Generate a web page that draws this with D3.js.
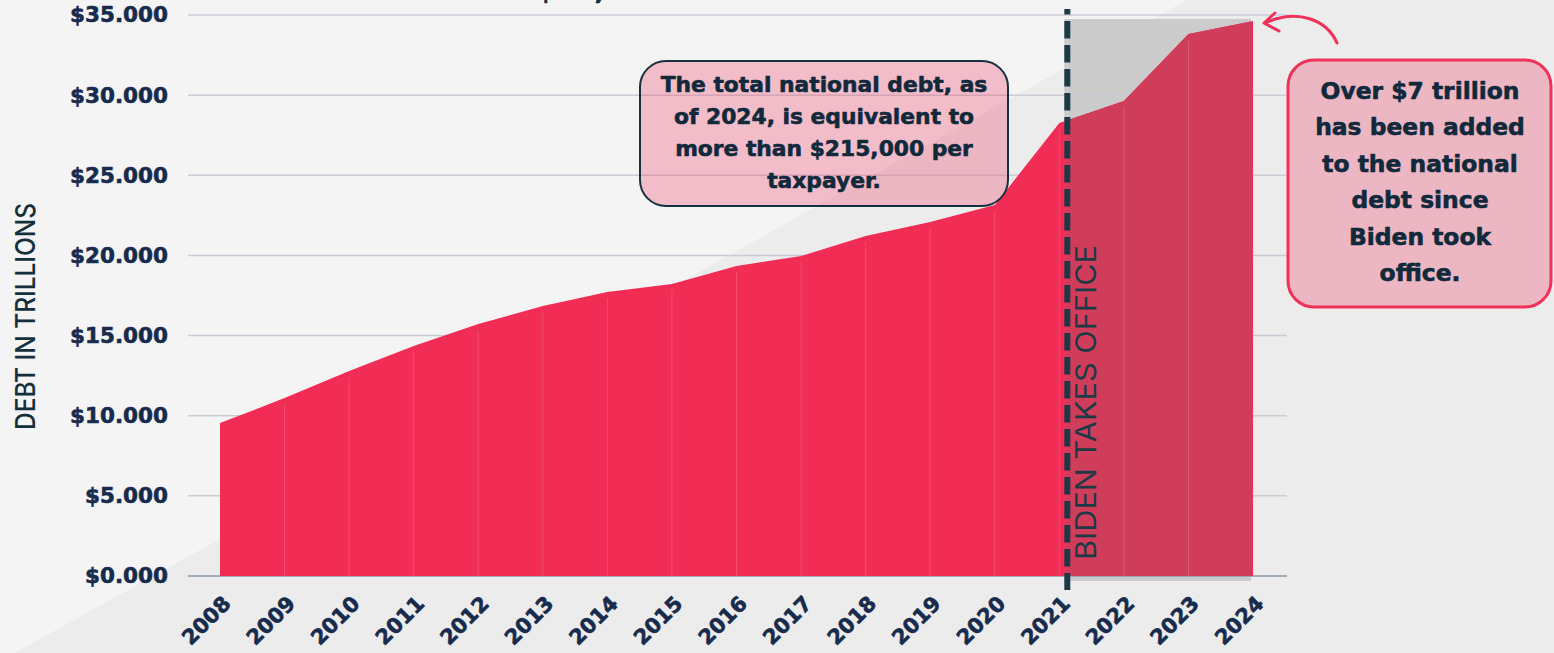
<!DOCTYPE html>
<html>
<head>
<meta charset="utf-8">
<script src="https://cdn.jsdelivr.net/npm/d3@7"></script>
<style>
  html, body { margin: 0; padding: 0; background: #f4f4f4; overflow: hidden; }
  svg { display: block; font-family: "DejaVu Sans", sans-serif; }
</style>
</head>
<body>
<svg width="1554" height="653"></svg>
<script>
// national debt, trillions of dollars
let years = [2008, 2009, 2010, 2011, 2012, 2013, 2014, 2015, 2016,
             2017, 2018, 2019, 2020, 2021, 2022, 2023, 2024];
let debt = [9.54, 11.10, 12.79, 14.35, 15.72, 16.84, 17.72, 18.22, 19.34,
            19.96, 21.21, 22.08, 23.14, 28.26, 29.63, 33.81, 34.62];
let yTicks = [0, 5, 10, 15, 20, 25, 30, 35];
let bidenYear = 2021;
let boxOneLines = ["The total national debt, as", "of 2024, is equivalent to",
                   "more than $215,000 per", "taxpayer."];
let boxTwoLines = ["Over $7 trillion", "has been added", "to the national",
                   "debt since", "Biden took", "office."];

let W = 1554, H = 653;
let navy = "#172b4d";
let ink = "#10293b";
let bold = "'DejaVu Sans', sans-serif";
let light = "Inter, 'Open Sans', sans-serif";

let svg = d3.select("svg");

// heavier bold text, a thin outline in the same colour
function heavy(sel, colour) {
  sel.attr("font-family", bold).attr("font-weight", 700)
     .attr("fill", colour).attr("stroke", colour)
     .attr("stroke-width", 0.6).attr("stroke-linejoin", "round");
}

// background with the diagonal band
svg.append("rect").attr("width", W).attr("height", H).attr("fill", "#f4f4f4");
svg.append("polygon")
   .attr("points", "15,653 1187,0 1554,0 1554,653")
   .attr("fill", "#ececec");

// title, mostly cut off at the top
svg.append("text")
   .attr("x", 536).attr("y", -1)
   .attr("font-size", 28)
   .call(heavy, ink)
   .text("$34,6 TRILLION IN DEBT");

let xScale = d3.scalePoint().domain(years).range([220, 1253]);
let yScale = d3.scaleLinear().domain([0, 35]).range([576, 15]);
let gridLeft = 188, gridRight = 1287;

// grey "since Biden" block behind the area
svg.append("rect")
   .attr("x", xScale(bidenYear) + 5)
   .attr("y", yScale(34.75))
   .attr("width", xScale(2024) - 2 - xScale(bidenYear) - 5)
   .attr("height", yScale(0) + 5 - yScale(34.75))
   .attr("fill", "#cbcbcb");

// gridlines
svg.append("g")
   .selectAll("line")
   .data(yTicks.filter(d => d > 0))
   .join("line")
   .attr("x1", gridLeft).attr("x2", gridRight)
   .attr("y1", d => yScale(d)).attr("y2", d => yScale(d))
   .attr("stroke", "#c8ccd4").attr("stroke-width", 1.5);

svg.append("line")
   .attr("x1", gridLeft).attr("x2", gridRight)
   .attr("y1", yScale(0)).attr("y2", yScale(0))
   .attr("stroke", "#8c99ad").attr("stroke-width", 1.5);

// area
let pts = years.map((yr, i) => ({year: yr, value: debt[i]}));
let area = d3.area()
   .x(d => xScale(d.year))
   .y0(yScale(0))
   .y1(d => yScale(d.value));

svg.append("path").datum(pts)
   .attr("d", area)
   .attr("fill", "#f12d55");

svg.append("clipPath").attr("id", "after")
   .append("rect")
   .attr("x", xScale(bidenYear) + 6).attr("y", 0)
   .attr("width", xScale(2024) - 2 - xScale(bidenYear) - 6)
   .attr("height", H);

svg.append("path").datum(pts)
   .attr("d", area)
   .attr("clip-path", "url(#after)")
   .attr("fill", "#d03d5b");

// faint year lines inside the area
svg.append("g")
   .selectAll("line")
   .data(pts.slice(1, -1))
   .join("line")
   .attr("x1", d => xScale(d.year)).attr("x2", d => xScale(d.year))
   .attr("y1", d => yScale(d.value) + 6).attr("y2", yScale(0))
   .attr("stroke", "#ffffff").attr("stroke-opacity", 0.14).attr("stroke-width", 1);

// y axis labels
let yAxis = d3.axisLeft(yScale)
   .tickValues(yTicks)
   .tickFormat(d => "$" + d3.format(".3f")(d))
   .tickSize(0)
   .tickPadding(20);

let gy = svg.append("g")
   .attr("transform", `translate(${gridLeft},0)`)
   .call(yAxis);
gy.select(".domain").remove();
gy.selectAll("text")
  .attr("font-size", 21.5)
  .call(heavy, navy);

// x axis labels
svg.append("g")
   .selectAll("text")
   .data(years)
   .join("text")
   .attr("transform", d => `translate(${xScale(d) + 12},605) rotate(-45)`)
   .attr("text-anchor", "end")
   .attr("font-size", 21)
   .call(heavy, navy)
   .text(d => d);

// y axis title
svg.append("text")
   .attr("transform", "translate(35,430) rotate(-90)")
   .attr("font-family", light)
   .attr("font-size", 27).attr("font-weight", 500).attr("fill", "#15303d")
   .attr("textLength", 227).attr("lengthAdjust", "spacingAndGlyphs")
   .text("DEBT IN TRILLIONS");

// Biden line
svg.append("line")
   .attr("x1", xScale(bidenYear) + 8).attr("x2", xScale(bidenYear) + 8)
   .attr("y1", 9).attr("y2", 590)
   .attr("stroke", "#1d3946").attr("stroke-width", 6)
   .attr("stroke-dasharray", "17.5,6.5").attr("stroke-dashoffset", 12);

svg.append("text")
   .attr("transform", `translate(${xScale(bidenYear) + 37},560) rotate(-90)`)
   .attr("font-family", light)
   .attr("font-size", 28).attr("font-weight", 400).attr("fill", "#1d3946")
   .attr("textLength", 315).attr("lengthAdjust", "spacingAndGlyphs")
   .text("BIDEN TAKES OFFICE");

// annotation 1
svg.append("rect")
   .attr("x", 640).attr("y", 61).attr("width", 368).attr("height", 145)
   .attr("rx", 26)
   .attr("fill", "rgb(241,84,121)").attr("fill-opacity", 0.35)
   .attr("stroke", "#15303f").attr("stroke-width", 2);

svg.append("g")
   .selectAll("text")
   .data(boxOneLines)
   .join("text")
   .attr("x", 824).attr("y", (d, i) => 92 + i * 32)
   .attr("text-anchor", "middle")
   .attr("font-size", 21.8)
   .call(heavy, ink)
   .text(d => d);

// annotation 2
svg.append("rect")
   .attr("x", 1288).attr("y", 60).attr("width", 263).attr("height", 247)
   .attr("rx", 26)
   .attr("fill", "rgb(241,84,121)").attr("fill-opacity", 0.35)
   .attr("stroke", "#f0325a").attr("stroke-width", 3);

svg.append("g")
   .selectAll("text")
   .data(boxTwoLines)
   .join("text")
   .attr("x", 1420).attr("y", (d, i) => 99 + i * 36.4)
   .attr("text-anchor", "middle")
   .attr("font-size", 23.4)
   .call(heavy, ink)
   .text(d => d);

// arrow
svg.append("path")
   .attr("d", "M1337,43 C1327,20 1298,8 1265,23")
   .attr("fill", "none").attr("stroke", "#f0325a").attr("stroke-width", 3)
   .attr("stroke-linecap", "round");
svg.append("path")
   .attr("d", "M1275,13 L1264,23 L1279,31")
   .attr("fill", "none").attr("stroke", "#f0325a").attr("stroke-width", 3)
   .attr("stroke-linecap", "round").attr("stroke-linejoin", "round");
</script>
</body>
</html>
